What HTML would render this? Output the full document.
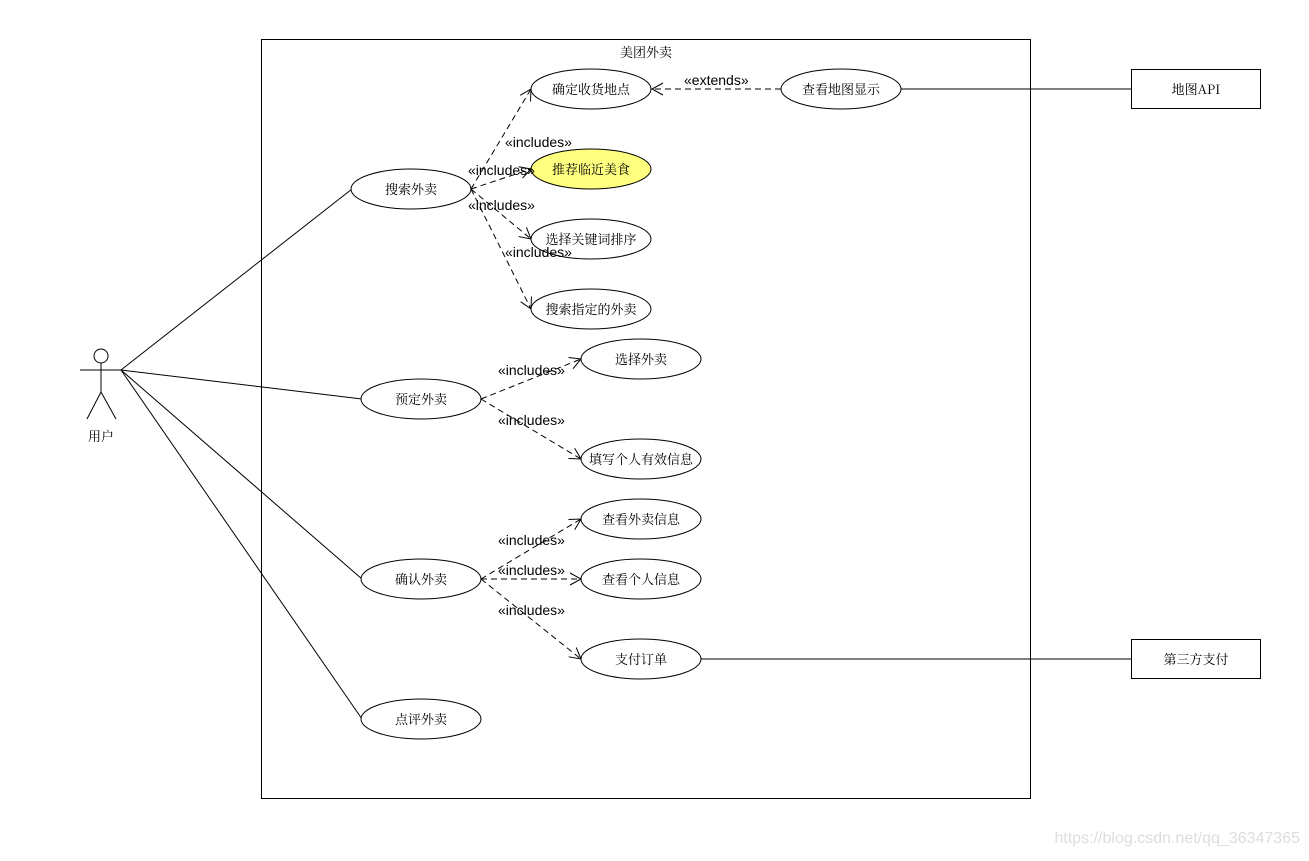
<!DOCTYPE html>
<html><head><meta charset="utf-8"><style>
body{margin:0;background:#fff}
svg text{font-family:"Liberation Sans","Noto Sans CJK SC",sans-serif;font-size:13px;fill:#000}
.cn{font-family:"Noto Serif CJK SC","Noto Sans CJK SC",serif;}
</style></head><body>
<svg width="1309" height="856" viewBox="0 0 1309 856" xmlns="http://www.w3.org/2000/svg">
<defs><marker id="a" markerWidth="14" markerHeight="14" refX="12" refY="7" orient="auto" markerUnits="userSpaceOnUse"><path d="M1,1 L12,7 L1,13" fill="none" stroke="#000"/></marker></defs>
<rect x="261.5" y="39.5" width="769" height="759" fill="none" stroke="#000"/>
<text x="646" y="57" text-anchor="middle" class="cn">美团外卖</text>
<g stroke="#000" fill="none">
<circle cx="101" cy="356" r="7"/>
<line x1="101" y1="363" x2="101" y2="392"/><line x1="80" y1="370" x2="122" y2="370"/>
<line x1="101" y1="392" x2="87" y2="419"/><line x1="101" y1="392" x2="116" y2="419"/>
<line x1="121" y1="370" x2="352" y2="189"/><line x1="121" y1="370" x2="362" y2="399"/>
<line x1="121" y1="370" x2="362" y2="579"/><line x1="121" y1="370" x2="362" y2="719"/>
<line x1="901" y1="89" x2="1131" y2="89"/><line x1="701" y1="659" x2="1131" y2="659"/>
</g>
<g stroke="#000" fill="none" stroke-dasharray="6,4" marker-end="url(#a)">
<line x1="471" y1="189" x2="531" y2="89"/><line x1="471" y1="189" x2="531" y2="169"/>
<line x1="471" y1="189" x2="531" y2="239"/><line x1="471" y1="189" x2="531" y2="309"/>
<line x1="481" y1="399" x2="581" y2="359"/><line x1="481" y1="399" x2="581" y2="459"/>
<line x1="481" y1="579" x2="581" y2="519"/><line x1="481" y1="579" x2="581" y2="579"/>
<line x1="481" y1="579" x2="581" y2="659"/>
<line x1="781" y1="89" x2="652" y2="89"/>
</g>
<g stroke="#000">
<ellipse cx="591" cy="89" rx="60" ry="20" fill="#fff"/>
<ellipse cx="841" cy="89" rx="60" ry="20" fill="#fff"/>
<ellipse cx="591" cy="169" rx="60" ry="20" fill="#ffff80"/>
<ellipse cx="591" cy="239" rx="60" ry="20" fill="#fff"/>
<ellipse cx="591" cy="309" rx="60" ry="20" fill="#fff"/>
<ellipse cx="411" cy="189" rx="60" ry="20" fill="#fff"/>
<ellipse cx="641" cy="359" rx="60" ry="20" fill="#fff"/>
<ellipse cx="421" cy="399" rx="60" ry="20" fill="#fff"/>
<ellipse cx="641" cy="459" rx="60" ry="20" fill="#fff"/>
<ellipse cx="641" cy="519" rx="60" ry="20" fill="#fff"/>
<ellipse cx="421" cy="579" rx="60" ry="20" fill="#fff"/>
<ellipse cx="641" cy="579" rx="60" ry="20" fill="#fff"/>
<ellipse cx="641" cy="659" rx="60" ry="20" fill="#fff"/>
<ellipse cx="421" cy="719" rx="60" ry="20" fill="#fff"/>
<rect x="1131.5" y="69.5" width="129" height="39" fill="#fff"/>
<rect x="1131.5" y="639.5" width="129" height="39" fill="#fff"/>
</g>
<g class="cn" text-anchor="middle">
<text x="591" y="94" class="cn">确定收货地点</text>
<text x="841" y="94" class="cn">查看地图显示</text>
<text x="591" y="174" class="cn">推荐临近美食</text>
<text x="591" y="244" class="cn">选择关键词排序</text>
<text x="591" y="314" class="cn">搜索指定的外卖</text>
<text x="411" y="194" class="cn">搜索外卖</text>
<text x="641" y="364" class="cn">选择外卖</text>
<text x="421" y="404" class="cn">预定外卖</text>
<text x="641" y="464" class="cn">填写个人有效信息</text>
<text x="641" y="524" class="cn">查看外卖信息</text>
<text x="421" y="584" class="cn">确认外卖</text>
<text x="641" y="584" class="cn">查看个人信息</text>
<text x="641" y="664" class="cn">支付订单</text>
<text x="421" y="724" class="cn">点评外卖</text>
<text x="1196" y="94" class="cn">地图API</text>
<text x="1196" y="664" class="cn">第三方支付</text>
<text x="101" y="441" class="cn">用户</text>
</g>
<g font-size="14">
<text x="684" y="85" style="font-size:14px">«extends»</text>
<text x="505" y="147" style="font-size:14px">«includes»</text>
<text x="468" y="175" style="font-size:14px">«includes»</text>
<text x="468" y="210" style="font-size:14px">«includes»</text>
<text x="505" y="257" style="font-size:14px">«includes»</text>
<text x="498" y="375" style="font-size:14px">«includes»</text>
<text x="498" y="425" style="font-size:14px">«includes»</text>
<text x="498" y="545" style="font-size:14px">«includes»</text>
<text x="498" y="575" style="font-size:14px">«includes»</text>
<text x="498" y="615" style="font-size:14px">«includes»</text>
</g>
<text x="1300" y="843" text-anchor="end" style="font-size:16px;fill:#ddd">https://blog.csdn.net/qq_36347365</text>
</svg>
</body></html>
